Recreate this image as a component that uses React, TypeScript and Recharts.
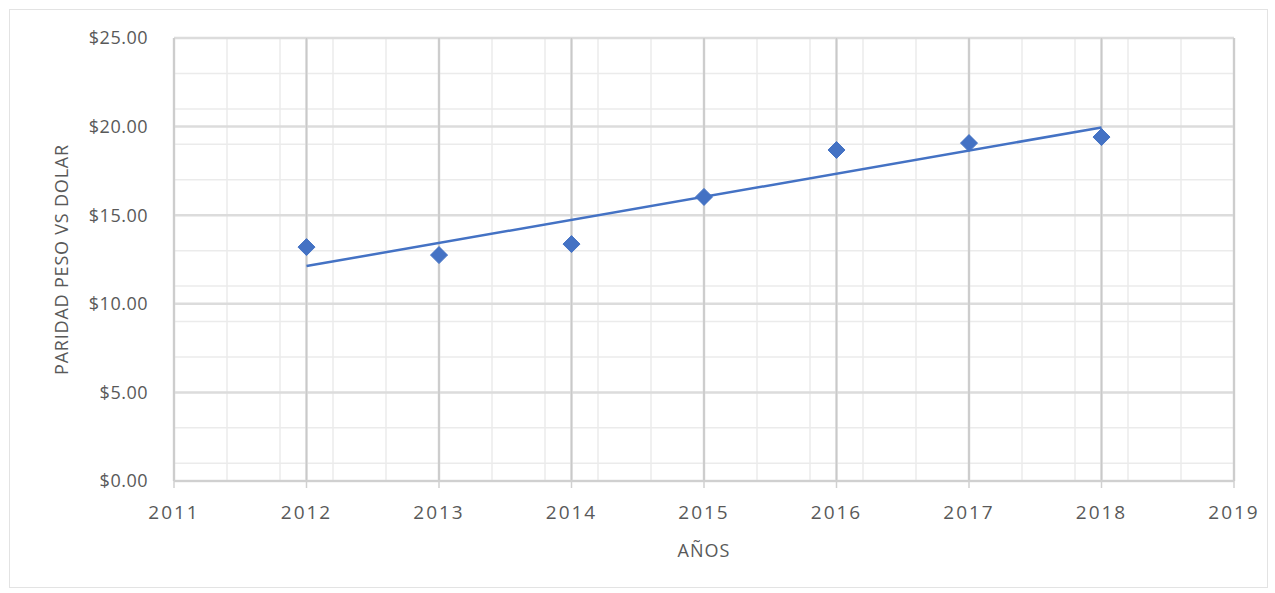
import React from 'react';
import { ComposedChart, Scatter, Line, XAxis, YAxis, CartesianGrid, Label } from 'recharts';

const years = [2012, 2013, 2014, 2015, 2016, 2017, 2018];
const paridad = [13.2, 12.75, 13.37, 16.03, 18.68, 19.07, 19.41];
const trendYears = [2012, 2018];
const trendValues = [12.13, 19.95];
const xTicks = [2011, 2012, 2013, 2014, 2015, 2016, 2017, 2018, 2019];
const yTicks = [0, 5, 10, 15, 20, 25];
const xMinor: number[] = [];
for (let i = 0; i <= 40; i++) xMinor.push(2011 + i * 0.2);
const yMinor: number[] = [];
for (let i = 0; i <= 25; i++) yMinor.push(i);

const points = years.map((x, i) => ({ x, y: paridad[i] }));
const trend = trendYears.map((x, i) => ({ x, y: trendValues[i] }));

const BLUE = '#4472C4';
const TEXT = '#595959';
const FONT = '"Open Sans", "Liberation Sans", sans-serif';

const Diamond = (props: any) => {
  const { cx, cy } = props;
  const r = 8.5;
  return (
    <polygon
      points={`${cx},${cy - r} ${cx + r},${cy} ${cx},${cy + r} ${cx - r},${cy}`}
      fill={BLUE}
      stroke={BLUE}
      strokeWidth={1}
      strokeLinejoin="round"
    />
  );
};

const fmt = (v: number) => `$${v.toFixed(2)}`;

export default function App() {
  return (
    <div style={{ position: 'absolute', left: 0, top: 0, width: 1275, height: 593, background: '#fff' }}>
      <div
        style={{
          position: 'absolute',
          left: 9,
          top: 9,
          width: 1259,
          height: 579,
          border: '1.5px solid #e3e3e3',
          boxSizing: 'border-box',
        }}
      />
      <div style={{ position: 'absolute', left: 0, top: 0 }}>
        <ComposedChart
          width={1275}
          height={593}
          margin={{ top: 38, right: 41, bottom: 52, left: 74 }}
        >
          <CartesianGrid
            horizontalValues={yMinor}
            verticalValues={xMinor}
            stroke="#ebebeb"
            strokeWidth={1.5}
          />
          <CartesianGrid
            horizontalValues={yTicks}
            verticalValues={[]}
            stroke="#dcdcdc"
            strokeWidth={2.5}
          />
          <CartesianGrid
            horizontal={false}
            verticalValues={xTicks}
            stroke="#c9c9c9"
            strokeWidth={1.5}
          />
          <XAxis
            type="number"
            dataKey="x"
            domain={[2011, 2019]}
            ticks={xTicks}
            allowDataOverflow
            height={60}
            axisLine={{ stroke: '#d0d0d0', strokeWidth: 2 }}
            tickLine={{ stroke: '#d0d0d0', strokeWidth: 1.5 }}
            tickSize={7}
            tickMargin={18}
            tick={{ fill: TEXT, fontSize: 19, fontFamily: FONT, letterSpacing: 2 }}
          >
            <Label
              value="AÑOS"
              position="insideBottom"
              offset={-16}
              style={{ fill: TEXT, fontSize: 18, fontFamily: FONT, letterSpacing: 1 }}
            />
          </XAxis>
          <YAxis
            type="number"
            dataKey="y"
            domain={[0, 25]}
            ticks={yTicks}
            width={100}
            axisLine={false}
            tickLine={false}
            tickSize={6}
            tickMargin={20}
            tickFormatter={fmt}
            tick={{ fill: TEXT, fontSize: 18, fontFamily: FONT, letterSpacing: 0.5 }}
          >
            <Label
              value="PARIDAD PESO VS DOLAR"
              angle={-90}
              position="insideLeft"
              offset={-12}
              style={{ fill: TEXT, fontSize: 18, fontFamily: FONT, textAnchor: 'middle', letterSpacing: 0.8 }}
            />
          </YAxis>
          <Line
            data={trend}
            dataKey="y"
            type="linear"
            stroke={BLUE}
            strokeWidth={2.5}
            dot={false}
            activeDot={false}
            isAnimationActive={false}
          />
          <Scatter
            data={points}
            dataKey="y"
            fill={BLUE}
            shape={<Diamond />}
            isAnimationActive={false}
          />
        </ComposedChart>
      </div>
    </div>
  );
}
